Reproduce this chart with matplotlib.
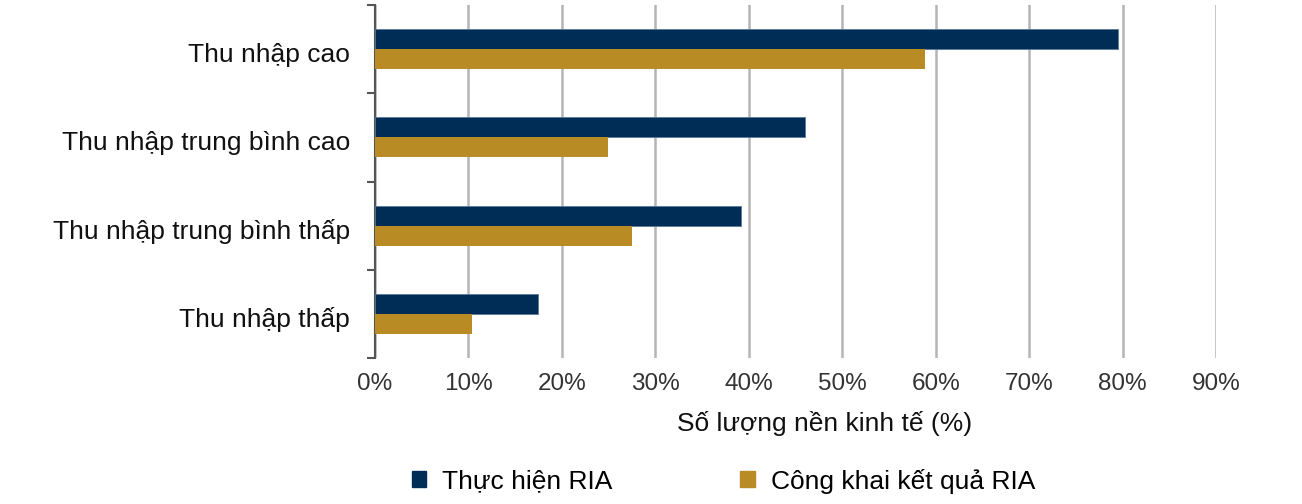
import matplotlib
matplotlib.use("Agg")
from matplotlib import pyplot as plt
from matplotlib.patches import Patch
import matplotlib.transforms as mtransforms
import numpy as np

plt.rcParams['font.family'] = ['Liberation Sans', 'DejaVu Sans']

#Data
categories = ['Thu nhập cao', 'Thu nhập trung bình cao', 'Thu nhập trung bình thấp', 'Thu nhập thấp']
ria_done = [79.5, 46.0, 39.2, 17.4]
ria_public = [58.9, 24.9, 27.5, 10.4]
x_ticks = [0, 10, 20, 30, 40, 50, 60, 70, 80, 90]

blue = '#002d56'
gold = '#b98b25'

fig = plt.figure(figsize=(13.02, 5.04), dpi=100)
ax = fig.add_axes([375/1302, 1-358/504, (1216-375)/1302, (358-5)/504])

pos = np.arange(len(categories))
h = 0.227
ax.barh(pos - h/2, ria_done, height=h, color=blue, edgecolor='#5a7a99', linewidth=0.6, zorder=3)
ax.barh(pos + h/2, ria_public, height=h, color=gold, zorder=3)

ax.set_xlim(0, 90)
ax.set_ylim(3.5, -0.5)

#Grid and spines
ax.set_xticks(x_ticks)
ax.set_xticklabels([f'{t}%' for t in x_ticks], fontsize=17.5, color='#333333')
ax.tick_params(axis='x', length=0, pad=11)
ax.grid(axis='x', color='#b5b5b5', linewidth=1.8, zorder=0)
for s in ['top', 'right', 'bottom']:
    ax.spines[s].set_visible(False)
ax.spines['left'].set_color('#555555')
ax.spines['left'].set_linewidth(1.5)

ax.set_yticks(pos)
ax.set_yticklabels(categories, fontsize=19, color='#111111')
ax.tick_params(axis='y', which='major', length=0, pad=18)
ax.set_yticks(np.arange(-0.5, 4, 1), minor=True)
ax.tick_params(axis='y', which='minor', length=6, width=1.5, color='#555555')

#labels sit a few pixels below the group centre
shift = mtransforms.ScaledTranslation(0, -3/100, fig.dpi_scale_trans)
for lbl in ax.get_yticklabels():
    lbl.set_transform(lbl.get_transform() + shift)

#Axis title sits right of the axes centre in the original
fig.text(825/1302, 1-423/504, 'Số lượng nền kinh tế (%)', fontsize=19, color='#111111',
         ha='center', va='center')

#Legend
handles = [Patch(color=blue), Patch(color=gold)]
fig.legend(handles, ['Thực hiện RIA', 'Công khai kết quả RIA'], loc='center',
           bbox_to_anchor=(723.5/1302, 1-481/504), ncol=2, frameon=False, fontsize=19,
           handlelength=0.55, handleheight=0.55, handletextpad=0.6, columnspacing=4.85)

fig.savefig('out.png', dpi=100)
